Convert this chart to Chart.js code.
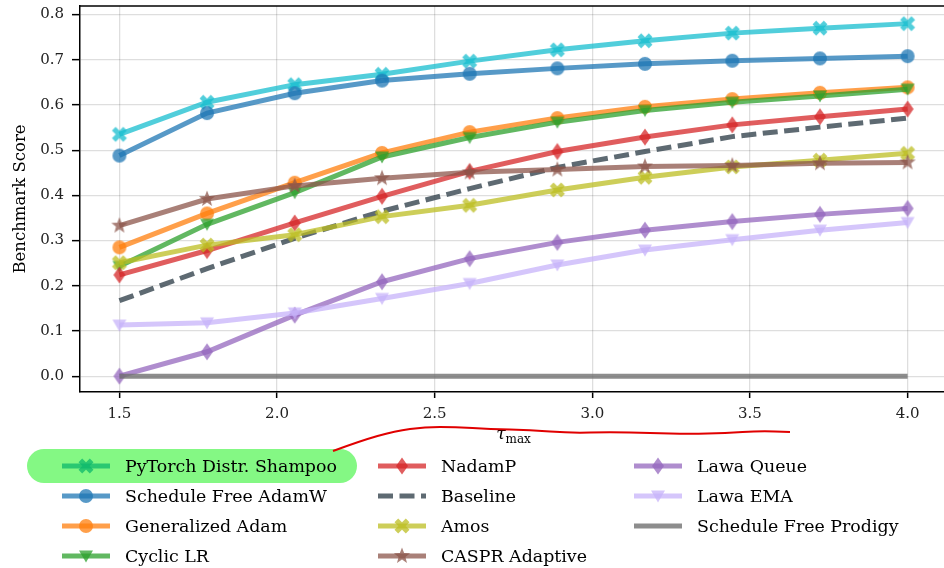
<!DOCTYPE html>
<html>
<head>
<meta charset="utf-8">
<script src="https://cdn.jsdelivr.net/npm/chart.js@4.4.1/dist/chart.umd.min.js"></script>
<style>
  html, body { margin: 0; padding: 0; background: #fff; overflow: hidden; }
  #chart { display: block; }
</style>
</head>
<body>
<canvas id="chart" width="960" height="568"></canvas>
<script>
// data
const tauMax = [1.5, 1.778, 2.056, 2.333, 2.611, 2.889, 3.167, 3.444, 3.722, 4.0];
const xTicks = [1.5, 2.0, 2.5, 3.0, 3.5, 4.0];
const yTicks = [0.0, 0.1, 0.2, 0.3, 0.4, 0.5, 0.6, 0.7, 0.8];

const shampoo   = [0.535, 0.606, 0.645, 0.668, 0.697, 0.722, 0.742, 0.759, 0.770, 0.780];
const sfAdamW   = [0.488, 0.582, 0.626, 0.654, 0.669, 0.681, 0.691, 0.698, 0.703, 0.708];
const genAdam   = [0.285, 0.360, 0.428, 0.494, 0.540, 0.571, 0.596, 0.613, 0.627, 0.639];
const cyclicLR  = [0.243, 0.336, 0.406, 0.485, 0.528, 0.562, 0.588, 0.606, 0.620, 0.635];
const nadamP    = [0.224, 0.278, 0.339, 0.398, 0.453, 0.497, 0.529, 0.556, 0.574, 0.591];
const baseline  = [0.167, 0.238, 0.305, 0.365, 0.415, 0.462, 0.497, 0.530, 0.551, 0.571];
const amos      = [0.251, 0.290, 0.313, 0.353, 0.378, 0.412, 0.440, 0.463, 0.478, 0.493];
const caspr     = [0.333, 0.392, 0.421, 0.438, 0.451, 0.457, 0.464, 0.466, 0.471, 0.473];
const lawaQueue = [0.000, 0.054, 0.135, 0.209, 0.260, 0.296, 0.323, 0.342, 0.358, 0.371];
const lawaEma   = [0.113, 0.118, 0.140, 0.172, 0.205, 0.246, 0.279, 0.302, 0.323, 0.340];
const sfProdigy = [0, 0, 0, 0, 0, 0, 0, 0, 0, 0];

const seriesNames = ['PyTorch Distr. Shampoo', 'Schedule Free AdamW', 'Generalized Adam', 'Cyclic LR',
  'NadamP', 'Baseline', 'Amos', 'CASPR Adaptive', 'Lawa Queue', 'Lawa EMA', 'Schedule Free Prodigy'];
const seriesValues = [shampoo, sfAdamW, genAdam, cyclicLR, nadamP, baseline, amos, caspr, lawaQueue, lawaEma, sfProdigy];
const seriesColors = ['rgba(23,190,207,0.75)', 'rgba(31,119,180,0.75)', 'rgba(255,127,14,0.75)', 'rgba(44,160,44,0.75)',
  'rgba(214,39,40,0.75)', 'rgba(54,69,79,0.8)', 'rgba(188,189,34,0.75)', 'rgba(140,86,75,0.75)',
  'rgba(148,103,189,0.75)', 'rgba(199,179,249,0.75)', 'rgba(112,112,112,0.8)'];
const seriesMarkers = ['X', 'circle', 'circle', 'tri', 'diamond', 'none', 'X', 'star', 'diamond', 'tri', 'none'];

const serif = "'DejaVu Serif', 'Liberation Serif', serif";

// filled marker shapes like matplotlib has
function makeMarker(kind, color) {
  const c = document.createElement('canvas');
  c.width = 20; c.height = 20;
  const g = c.getContext('2d');
  g.translate(10, 10);
  g.fillStyle = color;
  g.beginPath();
  if (kind === 'circle') {
    g.arc(0, 0, 7, 0, Math.PI * 2);
  } else if (kind === 'X') {
    g.rotate(Math.PI / 4);
    g.rect(-8, -2.6, 16, 5.2);
    g.rotate(Math.PI / 2);
    g.rect(-8, -2.6, 16, 5.2);
  } else if (kind === 'diamond') {
    g.moveTo(0, -8.5); g.lineTo(6, 0); g.lineTo(0, 8.5); g.lineTo(-6, 0);
  } else if (kind === 'tri') {
    g.moveTo(-7, -5.5); g.lineTo(7, -5.5); g.lineTo(0, 6.5);
  } else if (kind === 'star') {
    for (let k = 0; k < 10; k++) {
      const r = k % 2 === 0 ? 8.5 : 3.6;
      const a = -Math.PI / 2 + k * Math.PI / 5;
      if (k === 0) g.moveTo(r * Math.cos(a), r * Math.sin(a));
      else g.lineTo(r * Math.cos(a), r * Math.sin(a));
    }
  }
  g.closePath();
  g.fill();
  return c;
}

const datasets = seriesNames.map((name, i) => ({
  label: name,
  data: tauMax.map((x, j) => ({ x: x, y: seriesValues[i][j] })),
  borderColor: seriesColors[i],
  backgroundColor: seriesColors[i],
  borderWidth: 5,
  borderDash: name === 'Baseline' ? [15, 6.5] : [],
  pointStyle: seriesMarkers[i] === 'none' ? false : makeMarker(seriesMarkers[i], seriesColors[i]),
  pointRadius: seriesMarkers[i] === 'none' ? 0 : 7,
  tension: 0,
  order: seriesNames.length - i
}));

// legend in three columns under the plot, plus the highlight and the red ink
const legendPlugin = {
  id: 'colLegend',
  afterDraw(chart) {
    const ctx = chart.ctx;
    const colX = [62, 378, 634];
    const rowY0 = 466, rowH = 30;
    ctx.save();
    chart.data.datasets.forEach((ds, i) => {
      const col = Math.floor(i / 4), row = i % 4;
      const x0 = colX[col], y = rowY0 + row * rowH;
      ctx.beginPath();
      ctx.strokeStyle = ds.borderColor;
      ctx.lineWidth = 5;
      ctx.setLineDash(ds.borderDash);
      ctx.moveTo(x0, y); ctx.lineTo(x0 + 48, y);
      ctx.stroke();
      ctx.setLineDash([]);
      if (ds.pointStyle) ctx.drawImage(ds.pointStyle, x0 + 24 - 10, y - 10);
      ctx.fillStyle = '#000';
      ctx.font = '17.4px ' + serif;
      ctx.textBaseline = 'middle';
      ctx.textAlign = 'left';
      ctx.fillText(ds.label, x0 + 63, y + 1);
    });

    // x axis title: tau with subscript max
    const a = chart.chartArea;
    const cx = (a.left + a.right) / 2;
    ctx.fillStyle = '#000';
    ctx.textBaseline = 'alphabetic';
    ctx.font = 'italic 17px ' + serif;
    const wTau = ctx.measureText('τ').width;
    ctx.font = '12px ' + serif;
    const wMax = ctx.measureText('max').width;
    const tx = cx - (wTau + wMax) / 2;
    ctx.font = 'italic 17px ' + serif;
    ctx.fillText('τ', tx, 439);
    ctx.font = '12px ' + serif;
    ctx.fillText('max', tx + wTau, 443);

    // top spine
    ctx.beginPath();
    ctx.strokeStyle = '#000';
    ctx.lineWidth = 1.5;
    ctx.moveTo(a.left, a.top); ctx.lineTo(a.right, a.top);
    ctx.stroke();

    // green marker highlight over first legend entry
    ctx.globalCompositeOperation = 'multiply';
    ctx.fillStyle = '#84f884';
    ctx.beginPath();
    ctx.roundRect(27, 449, 330, 34, 17);
    ctx.fill();
    ctx.globalCompositeOperation = 'source-over';

    // red hand drawn ink under the axis title
    const ink = [[333, 451], [360, 441], [395, 431], [425, 427], [455, 427], [490, 429], [530, 430],
      [570, 433], [610, 432], [650, 433], [690, 434], [725, 433], [760, 431], [790, 432]];
    ctx.beginPath();
    ctx.strokeStyle = '#e00000';
    ctx.lineWidth = 2;
    ctx.lineJoin = 'round';
    ctx.moveTo(ink[0][0], ink[0][1]);
    for (let k = 1; k < ink.length - 1; k++) {
      const mx = (ink[k][0] + ink[k + 1][0]) / 2, my = (ink[k][1] + ink[k + 1][1]) / 2;
      ctx.quadraticCurveTo(ink[k][0], ink[k][1], mx, my);
    }
    ctx.lineTo(ink[ink.length - 1][0], ink[ink.length - 1][1]);
    ctx.stroke();
    ctx.restore();
  }
};

new Chart(document.getElementById('chart'), {
  type: 'line',
  data: { datasets: datasets },
  options: {
    responsive: false,
    animation: false,
    devicePixelRatio: 1,
    layout: { autoPadding: false, padding: { top: 6, left: 0, right: 13, bottom: 0 } },
    plugins: { legend: { display: false }, tooltip: { enabled: false } },
    scales: {
      x: {
        type: 'linear',
        min: 1.375,
        max: 4.125,
        afterBuildTicks: s => { s.ticks = xTicks.map(v => ({ value: v })); },
        afterFit: s => { s.height = 176; s.paddingLeft = 0; s.paddingRight = 0; },
        ticks: { callback: v => v.toFixed(1), font: { family: serif, size: 15 }, color: '#222', padding: 7, maxRotation: 0 },
        grid: { color: 'rgba(0,0,0,0.13)', lineWidth: 1.3, tickColor: '#000', tickLength: 6, tickWidth: 1.5 },
        border: { color: '#000', width: 1.5 }
      },
      y: {
        min: -0.035,
        max: 0.819,
        afterBuildTicks: s => { s.ticks = yTicks.map(v => ({ value: v })); },
        afterFit: s => { s.width = 80; s.paddingTop = 0; s.paddingBottom = 0; },
        ticks: { callback: v => v.toFixed(1), font: { family: serif, size: 15 }, color: '#222', padding: 8 },
        grid: { color: 'rgba(0,0,0,0.13)', lineWidth: 1.3, tickColor: '#000', tickLength: 8, tickWidth: 1.5 },
        border: { color: '#000', width: 1.5 },
        title: { display: true, text: 'Benchmark Score', font: { family: serif, size: 16.5 }, color: '#000', padding: { top: 11, bottom: 0 } }
      }
    }
  },
  plugins: [legendPlugin]
});
</script>
</body>
</html>
